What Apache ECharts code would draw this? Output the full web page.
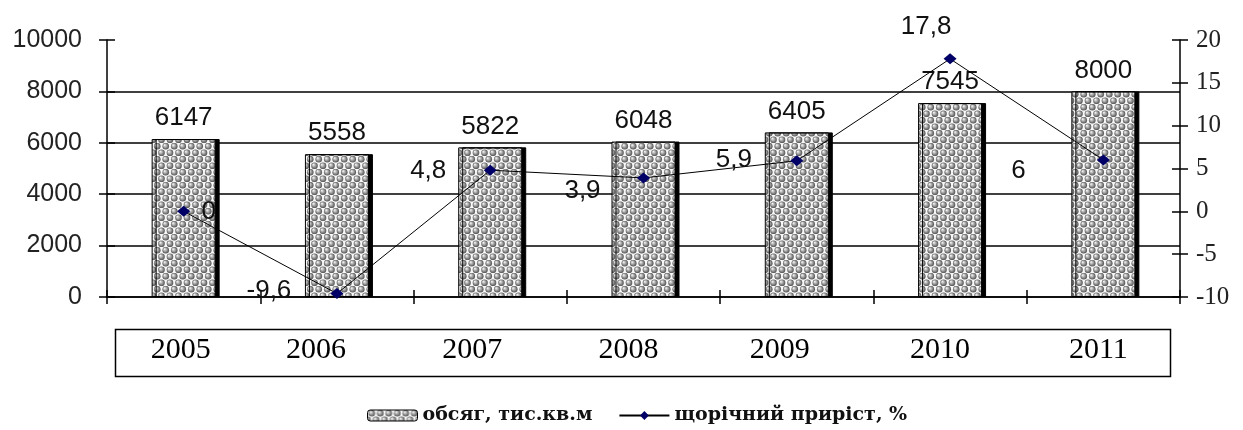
<!DOCTYPE html>
<html>
<head>
<meta charset="utf-8">
<script src="https://cdn.jsdelivr.net/npm/echarts@6/dist/echarts.min.js"></script>
<style>
html,body{margin:0;padding:0;background:#fff;}
#chart{width:1243px;height:430px;}
</style>
</head>
<body>
<div id="chart"></div>
<script>
// ---- data ----
const years = ['2005', '2006', '2007', '2008', '2009', '2010', '2011'];
const volume = [6147, 5558, 5822, 6048, 6405, 7545, 8000];   // обсяг, тис.кв.м
const growth = [0, -9.6, 4.8, 3.9, 5.9, 17.8, 6];            // щорічний приріст, %
const leftAxis = { min: 0, max: 10000, interval: 2000 };
const rightAxis = { min: -10, max: 20, interval: 5 };
const seriesNames = ['обсяг, тис.кв.м', 'щорічний приріст, %'];

// ---- style-only arrays ----
const growthLabelOffset = [[25, 0], [-68, -3], [-62, 1], [-61, 13], [-63, -1], [-24, -32], [-85, 11]];
const yearShift = [-3, -21, -18, -15, -17, -10, -5];

function makePattern() {
  const c = document.createElement('canvas');
  c.width = 17; c.height = 13;
  const g = c.getContext('2d');
  g.fillStyle = '#f8f8f8';
  g.fillRect(0, 0, 17, 13);
  const pts = [[4.25, 3.25], [12.75, 3.25], [0, 9.75], [8.5, 9.75], [17, 9.75]];
  pts.forEach(function (p) {
    const gr = g.createRadialGradient(p[0] - 1.2, p[1] - 1.2, 0.3, p[0], p[1], 3.6);
    gr.addColorStop(0, '#f0f0f0');
    gr.addColorStop(0.5, '#9a9a9a');
    gr.addColorStop(1, '#444');
    g.fillStyle = gr;
    g.beginPath();
    g.arc(p[0], p[1], 3.3, 0, Math.PI * 2);
    g.fill();
  });
  return c;
}
const pattern = { image: makePattern(), repeat: 'repeat' };

const rich = {};
yearShift.forEach(function (d, i) {
  rich['y' + i] = {
    fontFamily: '"Liberation Serif", "Times New Roman", serif',
    fontSize: 30, color: '#000',
    padding: d < 0 ? [0, -2 * d, 0, 0] : [0, 0, 0, 2 * d]
  };
});

const chart = echarts.init(document.getElementById('chart'));
const sans = '"Liberation Sans", Arial, sans-serif';
const serif = '"Liberation Serif", "Times New Roman", serif';

chart.setOption({
  animation: false,
  backgroundColor: '#fff',
  grid: { left: 107, right: 63, top: 40, bottom: 133 },
  legend: {
    left: 362, top: 401,
    itemGap: 26,
    itemWidth: 50, itemHeight: 11,
    textStyle: { fontFamily: '"DejaVu Serif", serif', fontSize: 19, fontWeight: 'bold', color: '#111' },
    data: [
      { name: seriesNames[0], itemStyle: { borderColor: '#000', borderWidth: 1, shadowOffsetX: 0 } },
      { name: seriesNames[1] }
    ]
  },
  graphic: [{
    type: 'rect', left: 113, top: 327,
    shape: { width: 1055, height: 47 },
    style: { fill: 'none', stroke: '#000', lineWidth: 1.5 }
  }],
  xAxis: [{
    type: 'category', data: years, position: 'bottom',
    axisLine: { onZero: false, lineStyle: { color: '#000', width: 1.5 } },
    axisTick: { show: true, length: 7, lineStyle: { color: '#000', width: 1.5 } },
    axisLabel: {
      margin: 38,
      formatter: function (v, i) { return '{y' + i + '|' + v + '}'; },
      rich: rich
    },
    splitLine: { show: false }
  }, {
    type: 'category', data: years, position: 'bottom',
    axisLine: { show: false, onZero: false },
    axisTick: { show: true, inside: true, length: 7, lineStyle: { color: '#000', width: 1.5 } },
    axisLabel: { show: false },
    splitLine: { show: false }
  }],
  yAxis: [{
    type: 'value', position: 'left',
    min: leftAxis.min, max: leftAxis.max, interval: leftAxis.interval,
    axisLine: { show: true, lineStyle: { color: '#000', width: 1.5 } },
    axisTick: { show: true, length: 8, lineStyle: { color: '#000', width: 1.5 } },
    axisLabel: { margin: 25, fontFamily: sans, fontSize: 25, color: '#222', formatter: function (v) { return String(v); } },
    splitLine: { show: true, lineStyle: { color: ['#000', '#000', '#000', '#000', '#000', 'rgba(0,0,0,0)'], width: 1.5 } }
  }, {
    type: 'value', position: 'right',
    min: rightAxis.min, max: rightAxis.max, interval: rightAxis.interval,
    axisLine: { show: true, lineStyle: { color: '#000', width: 1.5 } },
    axisTick: { show: true, length: 8, lineStyle: { color: '#000', width: 1.5 } },
    axisLabel: { margin: 16, fontFamily: serif, fontSize: 25, color: '#222' },
    splitLine: { show: false }
  }, {
    type: 'value', position: 'left',
    min: leftAxis.min, max: leftAxis.max, interval: leftAxis.interval,
    axisLine: { show: false },
    axisTick: { show: true, inside: true, length: 8, lineStyle: { color: '#000', width: 1.5 } },
    axisLabel: { show: false }, splitLine: { show: false }
  }, {
    type: 'value', position: 'right',
    min: rightAxis.min, max: rightAxis.max, interval: rightAxis.interval,
    axisLine: { show: false },
    axisTick: { show: true, inside: true, length: 8, lineStyle: { color: '#000', width: 1.5 } },
    axisLabel: { show: false }, splitLine: { show: false }
  }],
  series: [{
    name: seriesNames[0],
    type: 'bar',
    data: volume,
    barWidth: 64,
    yAxisIndex: 0,
    itemStyle: {
      color: pattern,
      borderColor: '#000', borderWidth: 1,
      shadowColor: '#000', shadowOffsetX: 4, shadowOffsetY: 0, shadowBlur: 0.1
    },
    label: {
      show: true, position: 'top', distance: 8,
      fontFamily: sans, fontSize: 26, color: '#111'
    },
    z: 2
  }, {
    name: seriesNames[1],
    type: 'line',
    yAxisIndex: 1,
    data: growth.map(function (v, i) {
      return { value: v, label: { offset: growthLabelOffset[i] } };
    }),
    symbol: 'diamond',
    symbolSize: [13, 11],
    itemStyle: { color: '#000066' },
    lineStyle: { color: '#000', width: 1 },
    label: {
      show: true, position: 'inside',
      fontFamily: sans, fontSize: 26, color: '#111',
      formatter: function (p) { return String(p.value).replace('.', ','); }
    },
    z: 5
  }]
});
</script>
</body>
</html>
